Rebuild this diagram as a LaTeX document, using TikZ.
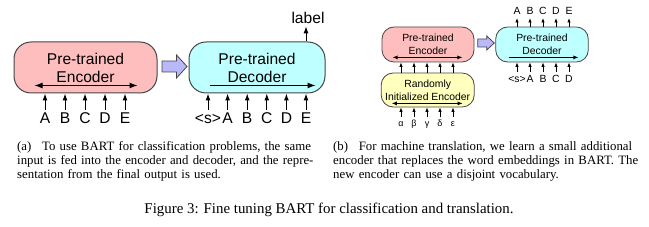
\documentclass[tikz,border=0pt]{standalone}
\usepackage{fontspec}
\setmainfont{Liberation Serif}
\newfontfamily\helv{Liberation Sans}
\usetikzlibrary{arrows.meta}

\definecolor{encpink}{RGB}{255,190,190}
\definecolor{deccyan}{RGB}{190,255,255}
\definecolor{randyel}{RGB}{255,255,190}
\definecolor{blocklav}{RGB}{185,185,250}
\definecolor{edgegray}{RGB}{70,70,70}
\tolerance=10000\relax
\hbadness=10000\relax
\hfuzz=20pt\relax

\begin{document}
\begin{tikzpicture}[x=1pt,y=-1pt,
    bigbox/.style={draw=edgegray, line width=1pt, rounded corners=17pt, inner sep=0pt, align=center, font=\fontsize{15.6}{18}\helv},
    smallbox/.style={draw=edgegray, line width=0.8pt, rounded corners=12pt, inner sep=0pt, align=center, font=\fontsize{10.4}{13}\helv},
    tokA/.style={font=\fontsize{15.6}{18}\helv, text height=11.3pt, text depth=0pt, inner xsep=0pt, inner ysep=1.5pt},
    tokB/.style={font=\fontsize{10.4}{13}\helv, text height=7.5pt, text depth=0pt, inner xsep=0pt, inner ysep=3pt},
    tokG/.style={font=\fontsize{9}{10}\helv, text height=6.5pt, text depth=2pt, inner xsep=0pt, inner ysep=3pt},
    arrA/.style={line width=1pt, -{Latex[length=7pt,width=5pt]}},
    arrB/.style={line width=0.8pt, -{Latex[length=4.5pt,width=3.5pt]}},
    innerA/.style={line width=1pt, {Latex[length=8pt,width=6pt]}-{Latex[length=8pt,width=6pt]}},
    innerB/.style={line width=0.8pt, {Latex[length=5pt,width=4pt]}-{Latex[length=5pt,width=4pt]}},
    blockarr/.style={draw=edgegray, fill=blocklav, line width=0.8pt},
    captext/.style={font={\fontsize{12.8}{14}\selectfont\spaceskip=0.25em plus 0.3em minus 0.12em\relax}, inner sep=0pt, anchor=base west}]
    \useasboundingbox (0,0) rectangle (649,227);

    % (a) classification
    \node[bigbox, fill=encpink, minimum width=143pt, minimum height=51pt] (enca) at (85.5,67.5) {Pre-trained\\Encoder};
    \draw[innerA] ([xshift=21pt,yshift=8pt]enca.south west) -- ([xshift=-20pt,yshift=8pt]enca.south east);
    \foreach \t [count=\i] in {A,B,C,D,E} {
        \node[tokA] (ea\i) at (25+20*\i,117.5) {\t};
        \draw[arrA] (ea\i.north) -- (ea\i |- enca.south);
    }
    \draw[blockarr] (162,61) -- (176.5,61) -- (176.5,55) -- (187,66.5) -- (176.5,78) -- (176.5,72) -- (162,72) -- cycle;
    \node[bigbox, fill=deccyan, minimum width=136pt, minimum height=51pt] (deca) at (257,67.5) {Pre-trained\\Decoder};
    \draw[arrA, -{Latex[length=8pt,width=6pt]}] ([xshift=21pt,yshift=8pt]deca.south west) -- ([xshift=-10pt,yshift=8pt]deca.south east);
    \foreach \t [count=\i] in {<s>,A,B,C,D,E} {
        \node[tokA] (da\i) at (188.4+19.6*\i,117.5) {\t};
        \draw[arrA] (da\i.north) -- (da\i |- deca.south);
    }
    \node[tokA, inner ysep=3pt] (lbl) at (308,17.5) {label};
    \draw[arrA] (da6 |- deca.north) -- (da6 |- lbl.south);

    % (b) translation
    \node[smallbox, fill=encpink, minimum width=92pt, minimum height=35pt] (encb) at (428,44.5) {Pre-trained\\Encoder};
    \draw[innerB] ([xshift=11pt,yshift=5pt]encb.south west) -- ([xshift=-12pt,yshift=5pt]encb.south east);
    \node[smallbox, fill=randyel, minimum width=93pt, minimum height=34pt] (randb) at (427.7,90) {Randomly\\Initialized Encoder};
    \draw[innerB] ([xshift=11pt,yshift=4pt]randb.south west) -- ([xshift=-12pt,yshift=4pt]randb.south east);
    \foreach \t [count=\i] in {α,β,γ,δ,ε} {
        \node[tokG] (gb\i) at (388+13*\i,124.5) {\t};
        \draw[arrB] (gb\i.north) -- (gb\i |- randb.south);
        \draw[arrB] (gb\i |- randb.north) -- (gb\i |- encb.south);
    }
    \draw[blockarr] (477.7,39) -- (486.7,39) -- (486.7,36) -- (494.3,43) -- (486.7,50) -- (486.7,47) -- (477.7,47) -- cycle;
    \node[smallbox, fill=deccyan, minimum width=92.6pt, minimum height=35pt] (decb) at (542,44.5) {Pre-trained\\Decoder};
    \draw[arrB, -{Latex[length=5pt,width=4pt]}] ([xshift=13.3pt,yshift=5pt]decb.south west) -- ([xshift=-10.3pt,yshift=5pt]decb.south east);
    \foreach \t [count=\i] in {<s>,A,B,C,D} {
        \node[tokB] (db\i) at (504+13*\i,78.5) {\t};
        \draw[arrB] (db\i.north) -- (db\i |- decb.south);
    }
    \foreach \t [count=\i] in {A,B,C,D,E} {
        \node[tokB] (ob\i) at (504+13*\i,11) {\t};
        \draw[arrB] (ob\i |- decb.north) -- (ob\i.south);
    }

    % captions
    \node[captext, text width=300pt] (capa) at (17,150.5) {(a)~\enspace To use BART for classification problems, the same\linebreak input is fed into the encoder and decoder, and the repre-\linebreak sentation from the final output is used.};
    \node[captext, text width=302pt] (capb) at (333,150.5) {\hbox to 302pt{(b)~\enspace For machine translation, we learn a small additional}\par
        \hbox to 302pt{encoder that replaces the word embeddings in BART. The}\par
        new encoder can use a disjoint vocabulary.};
    \node[font=\fontsize{14.9}{18}\selectfont, anchor=base, inner sep=0pt] (figcap) at (329,213.5) {Figure 3: Fine tuning BART for classification and translation.};
\end{tikzpicture}
\end{document}
